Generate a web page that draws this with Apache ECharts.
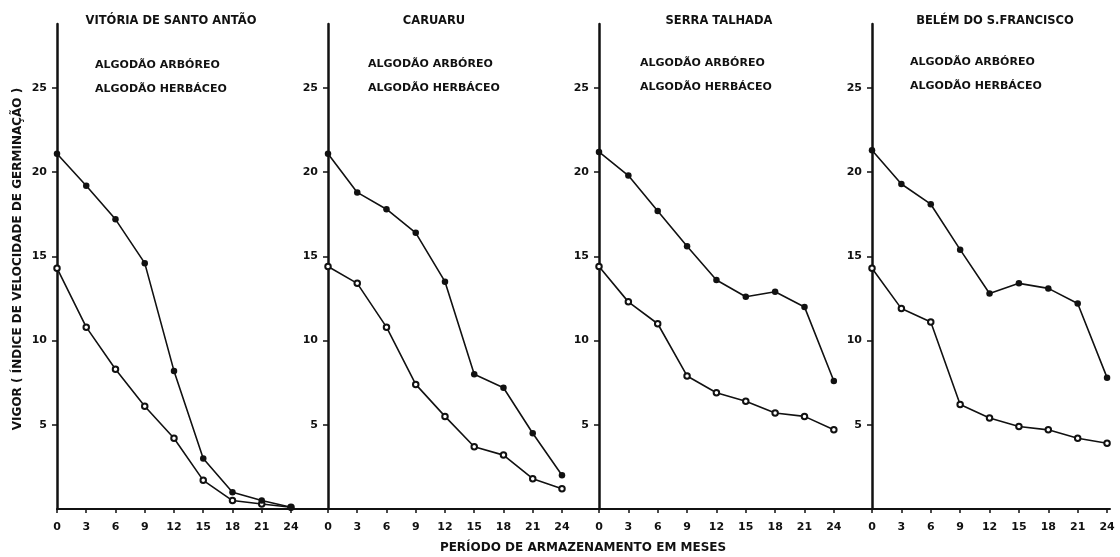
<!DOCTYPE html>
<html>
<head>
<meta charset="utf-8">
<script src="https://cdn.jsdelivr.net/npm/echarts@6/dist/echarts.min.js"></script>
<style>
html,body{margin:0;padding:0;background:#fff;}
#chart{width:1120px;height:557px;}
</style>
</head>
<body>
<div id="chart"></div>
<script>
// ---- data ----
const months = [0, 3, 6, 9, 12, 15, 18, 21, 24];
const yTicks = [5, 10, 15, 20, 25];
const panelTitles = ['VITÓRIA DE SANTO ANTÃO', 'CARUARU', 'SERRA TALHADA', 'BELÉM DO S.FRANCISCO'];
const seriesNames = ['ALGODÃO ARBÓREO', 'ALGODÃO HERBÁCEO'];
const vitoriaArboreo  = [21.1, 19.2, 17.2, 14.6, 8.2, 3.0, 1.0, 0.5, 0.1];
const vitoriaHerbaceo = [14.3, 10.8, 8.3, 6.1, 4.2, 1.7, 0.5, 0.3, 0.1];
const caruaruArboreo  = [21.1, 18.8, 17.8, 16.4, 13.5, 8.0, 7.2, 4.5, 2.0];
const caruaruHerbaceo = [14.4, 13.4, 10.8, 7.4, 5.5, 3.7, 3.2, 1.8, 1.2];
const serraArboreo    = [21.2, 19.8, 17.7, 15.6, 13.6, 12.6, 12.9, 12.0, 7.6];
const serraHerbaceo   = [14.4, 12.3, 11.0, 7.9, 6.9, 6.4, 5.7, 5.5, 4.7];
const belemArboreo    = [21.3, 19.3, 18.1, 15.4, 12.8, 13.4, 13.1, 12.2, 7.8];
const belemHerbaceo   = [14.3, 11.9, 11.1, 6.2, 5.4, 4.9, 4.7, 4.2, 3.9];
const yAxisName = 'VIGOR ( ÍNDICE DE VELOCIDADE DE GERMINAÇÃO )';
const xAxisName = 'PERÍODO DE ARMAZENAMENTO EM MESES';

const panelData = [
  [vitoriaArboreo, vitoriaHerbaceo],
  [caruaruArboreo, caruaruHerbaceo],
  [serraArboreo, serraHerbaceo],
  [belemArboreo, belemHerbaceo]
];

// ---- layout ----
const FONT = 'DejaVu Sans';
const INK = '#111';
const gridLefts = [57, 328, 599, 872];
const gridWidths = [272, 272, 273, 238];
const xMax = [27.9, 27.9, 27.9, 24.3];
const titleCenters = [171, 434, 719, 995];
const legendLefts = [95, 368, 640, 910];
const legendYs = [65, 64, 63, 62];

const grids = [], xAxes = [], yAxes = [], series = [], graphics = [];
for (let i = 0; i < 4; i++) {
  grids.push({left: gridLefts[i], width: gridWidths[i], top: 24, bottom: 48, containLabel: false});
  xAxes.push({
    type: 'value', gridIndex: i, min: 0, max: xMax[i], interval: 3,
    axisLine: {show: true, lineStyle: {color: INK, width: 2}},
    axisTick: {show: true, length: 4, customValues: months, lineStyle: {color: INK, width: 1.5}},
    axisLabel: {customValues: months, margin: 13, color: INK, fontFamily: FONT, fontWeight: 'bold', fontSize: 11},
    splitLine: {show: false}
  });
  yAxes.push({
    type: 'value', gridIndex: i, min: 0, max: 28.8, interval: 5,
    axisLine: {show: true, lineStyle: {color: INK, width: 2.5}},
    axisTick: {show: true, length: 5, customValues: yTicks, lineStyle: {color: INK, width: 1.5}},
    axisLabel: {customValues: yTicks, margin: 10, color: INK, fontFamily: FONT, fontWeight: 'bold', fontSize: 11},
    splitLine: {show: false}
  });
  const [arb, herb] = panelData[i];
  series.push({
    type: 'line', name: seriesNames[0], xAxisIndex: i, yAxisIndex: i,
    data: months.map((m, k) => [m, arb[k]]),
    symbol: 'circle', symbolSize: 6.5, showSymbol: true,
    lineStyle: {color: INK, width: 1.6}, itemStyle: {color: INK},
    animation: false, z: 3
  });
  series.push({
    type: 'line', name: seriesNames[1], xAxisIndex: i, yAxisIndex: i,
    data: months.map((m, k) => [m, herb[k]]),
    symbol: 'emptyCircle', symbolSize: 5.5, showSymbol: true,
    lineStyle: {color: INK, width: 1.6}, itemStyle: {color: INK, borderColor: INK, borderWidth: 1.3},
    animation: false, z: 2
  });
  graphics.push({
    type: 'text', x: titleCenters[i], y: 21,
    style: {text: panelTitles[i], fill: INK, font: 'bold 11.5px "' + FONT + '"', textAlign: 'center', textVerticalAlign: 'middle'}
  });
  graphics.push({
    type: 'text', x: legendLefts[i], y: legendYs[i],
    style: {text: seriesNames[0], fill: INK, font: 'bold 11px "' + FONT + '"', textAlign: 'left', textVerticalAlign: 'middle'}
  });
  graphics.push({
    type: 'text', x: legendLefts[i], y: legendYs[i] + 24,
    style: {text: seriesNames[1], fill: INK, font: 'bold 11px "' + FONT + '"', textAlign: 'left', textVerticalAlign: 'middle'}
  });
}
graphics.push({
  type: 'text', x: 18, y: 259, rotation: Math.PI / 2,
  style: {text: yAxisName, fill: INK, font: 'bold 12px "' + FONT + '"', textAlign: 'center', textVerticalAlign: 'middle'}
});
graphics.push({
  type: 'text', x: 583, y: 548,
  style: {text: xAxisName, fill: INK, font: 'bold 12px "' + FONT + '"', textAlign: 'center', textVerticalAlign: 'middle'}
});

const chart = echarts.init(document.getElementById('chart'), null, {renderer: 'canvas'});
chart.setOption({
  backgroundColor: '#fff',
  animation: false,
  grid: grids,
  xAxis: xAxes,
  yAxis: yAxes,
  series: series,
  graphic: graphics
});
</script>
</body>
</html>
